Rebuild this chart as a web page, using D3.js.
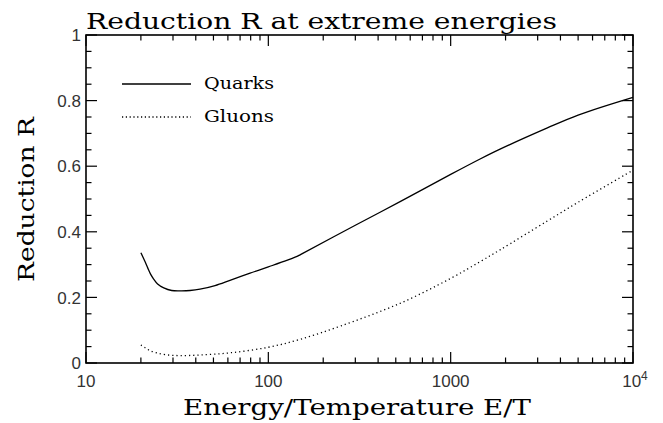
<!DOCTYPE html>
<html>
<head>
<meta charset="utf-8">
<script src="https://cdn.jsdelivr.net/npm/d3@7"></script>
<style>
  body { margin: 0; background: #fff; }
  svg { display: block; }
  .serif { font-family: "DejaVu Serif", serif; fill: #000; }
  .tick-label { font-family: "Liberation Sans", Arial, sans-serif; fill: #333; font-size: 17px; }
</style>
</head>
<body>
<div id="chart"></div>
<script>
// Quarks (solid) and gluons (dotted): reduction R vs E/T
const quarkE = [20, 21.0, 21.8, 22.6, 23.5, 24.7, 26.7, 29.5, 33.5, 37.2, 42.2, 51, 61.6, 79.4, 100, 143.7, 150, 300, 528, 1000, 1450, 1866, 3368, 5000, 10000];
const quarkR = [0.336, 0.311, 0.290, 0.271, 0.256, 0.241, 0.229, 0.221, 0.220, 0.221, 0.225, 0.236, 0.252, 0.274, 0.293, 0.325, 0.3305, 0.420, 0.492, 0.575, 0.622, 0.652, 0.716, 0.756, 0.810];

const gluonE = [20, 21.1, 22.4, 24.5, 27.5, 32.8, 42.2, 61.6, 100, 149, 250, 528, 1000, 1450, 1866, 3368, 5000, 10000];
const gluonR = [0.055, 0.0466, 0.038, 0.0305, 0.025, 0.0226, 0.0244, 0.031, 0.048, 0.072, 0.113, 0.182, 0.258, 0.309, 0.345, 0.432, 0.490, 0.588];

const xTickValues = [10, 100, 1000, 10000];
const xTickLabels = ['10', '100', '1000', '10^4'];
const yTickValues = [0, 0.2, 0.4, 0.6, 0.8, 1];
const yTickLabels = ['0', '0.2', '0.4', '0.6', '0.8', '1'];

const legendNames = ['Quarks', 'Gluons'];

const width = 663, height = 423;
const margin = { top: 35, right: 30, bottom: 60, left: 86 };
const plotW = width - margin.left - margin.right;
const plotH = 363 - margin.top;

const svg = d3.select('#chart').append('svg')
    .attr('width', width)
    .attr('height', height);

const g = svg.append('g')
    .attr('transform', `translate(${margin.left},${margin.top})`);

// Scales
const xScale = d3.scaleLog().domain([10, 10000]).range([0, plotW]);
const yScale = d3.scaleLinear().domain([0, 1]).range([plotH, 0]);

const xMinor = xScale.ticks().filter(v => !xTickValues.includes(v));
const yMinor = d3.range(0, 1.0001, 0.05).map(v => +v.toFixed(2))
    .filter(v => !yTickValues.some(t => Math.abs(t - v) < 1e-6));

// Ticks pointing inward on all four sides
const tickLayer = g.append('g');

function addTick(x1, y1, x2, y2) {
    tickLayer.append('line')
        .attr('x1', x1).attr('y1', y1)
        .attr('x2', x2).attr('y2', y2)
        .attr('stroke', '#000')
        .attr('stroke-width', 1.2);
}
function xTicks(values, len) {
    values.forEach(v => {
        const px = xScale(v);
        addTick(px, plotH, px, plotH - len);
        addTick(px, 0, px, len);
    });
}
function yTicks(values, len) {
    values.forEach(v => {
        const py = yScale(v);
        addTick(0, py, len, py);
        addTick(plotW, py, plotW - len, py);
    });
}
xTicks(xTickValues, 11);
xTicks(xMinor, 5.5);
yTicks(yTickValues, 11);
yTicks(yMinor, 5.5);

// Frame
g.append('rect')
    .attr('width', plotW)
    .attr('height', plotH)
    .attr('fill', 'none')
    .attr('stroke', '#000')
    .attr('stroke-width', 1.6);

// X tick labels
xTickValues.forEach((v, i) => {
    const t = g.append('text')
        .attr('class', 'tick-label')
        .attr('x', xScale(v))
        .attr('y', plotH + 24)
        .attr('text-anchor', 'middle');
    const lab = xTickLabels[i];
    if (lab.includes('^')) {
        const [base, exp] = lab.split('^');
        t.attr('dx', 2);
        t.append('tspan').text(base);
        t.append('tspan').attr('dy', -7).attr('font-size', '12px').text(exp);
    } else {
        t.text(lab);
    }
});

// Y tick labels
yTickValues.forEach((v, i) => {
    g.append('text')
        .attr('class', 'tick-label')
        .attr('x', -5)
        .attr('y', yScale(v))
        .attr('dy', '0.36em')
        .attr('text-anchor', 'end')
        .text(yTickLabels[i]);
});

// Lines
const line = d3.line()
    .x(d => xScale(d[0]))
    .y(d => yScale(d[1]))
    .curve(d3.curveCatmullRom.alpha(0.5));

g.append('path')
    .datum(d3.zip(quarkE, quarkR))
    .attr('d', line)
    .attr('fill', 'none')
    .attr('stroke', '#000')
    .attr('stroke-width', 1.3);

g.append('path')
    .datum(d3.zip(gluonE, gluonR))
    .attr('d', line)
    .attr('fill', 'none')
    .attr('stroke', '#000')
    .attr('stroke-width', 1.3)
    .attr('stroke-dasharray', '1.2,3');

// Legend
legendNames.forEach((name, i) => {
    const ly = 84 + i * 33 - margin.top;
    g.append('line')
        .attr('x1', 122 - margin.left)
        .attr('x2', 191 - margin.left)
        .attr('y1', ly)
        .attr('y2', ly)
        .attr('stroke', '#000')
        .attr('stroke-width', 1.3)
        .attr('stroke-dasharray', i === 1 ? '1.2,2.6' : null);
    g.append('text')
        .attr('class', 'serif')
        .attr('x', 204 - margin.left)
        .attr('y', ly + 5)
        .attr('font-size', '16px')
        .attr('textLength', 70)
        .attr('lengthAdjust', 'spacingAndGlyphs')
        .text(name);
});

// Title
svg.append('text')
    .attr('class', 'serif')
    .attr('x', 86)
    .attr('y', 29)
    .attr('font-size', '22px')
    .attr('textLength', 471)
    .attr('lengthAdjust', 'spacingAndGlyphs')
    .text('Reduction R at extreme energies');

// X label
svg.append('text')
    .attr('class', 'serif')
    .attr('x', 183)
    .attr('y', 415)
    .attr('font-size', '22px')
    .attr('textLength', 348)
    .attr('lengthAdjust', 'spacingAndGlyphs')
    .text('Energy/Temperature E/T');

// Y label
svg.append('text')
    .attr('class', 'serif')
    .attr('transform', 'translate(34,282) rotate(-90)')
    .attr('font-size', '22px')
    .attr('textLength', 165)
    .attr('lengthAdjust', 'spacingAndGlyphs')
    .text('Reduction R');
</script>
</body>
</html>
